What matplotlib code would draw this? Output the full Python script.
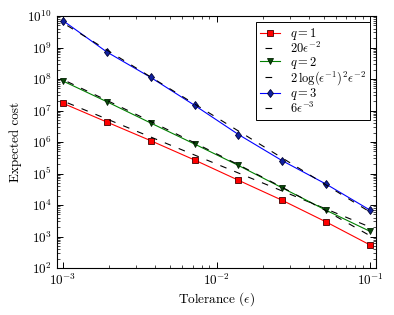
import numpy as np
import matplotlib
matplotlib.use("Agg")
import matplotlib.pyplot as plt

plt.rcParams['font.family'] = 'serif'
plt.rcParams['font.serif'] = ['cmr10', 'DejaVu Serif']
plt.rcParams['mathtext.fontset'] = 'cm'
plt.rcParams['axes.formatter.use_mathtext'] = True
plt.rcParams['font.size'] = 9

tol = [1.0e-3, 1.93e-3, 3.73e-3, 7.20e-3, 1.39e-2, 2.68e-2, 5.18e-2, 1.0e-1]
cost_q1 = [1.69e7, 4.3e6, 1.1e6, 2.68e5, 6.1e4, 1.41e4, 2.9e3, 5.4e2]
cost_q2 = [8.6e7, 1.9e7, 4.0e6, 8.6e5, 1.8e5, 3.5e4, 6.8e3, 1.46e3]
cost_q3 = [7.1e9, 7.2e8, 1.12e8, 1.46e7, 1.73e6, 2.55e5, 4.6e4, 6.9e3]

eps = np.array(tol)
ref1 = 20 * eps**-2
ref2 = 2 * np.log(1 / eps)**2 * eps**-2
ref3 = 6 * eps**-3

fig = plt.figure(figsize=(3.94, 3.15), dpi=100)
ax = fig.add_axes([57/394, 1-268/315, (376-57)/394, (268-16)/315])

dash = (9.0, (6.0, 7.5))
ax.plot(tol, cost_q1, '-', color='r', lw=0.8, marker='s', ms=3.9,
        mfc='r', mec='#400000', mew=0.6, label=r'$q=1$')
ax.plot(tol, ref1, color='k', lw=0.8, linestyle=dash, label=r'$20\epsilon^{-2}$')
ax.plot(tol, cost_q2, '-', color='g', lw=0.8, marker='v', ms=4.3,
        mfc='#0a4a0a', mec='#002000', mew=0.6, label=r'$q=2$')
ax.plot(tol, ref2, color='k', lw=0.8, linestyle=dash,
        label=r'$2\,\log(\epsilon^{-1})^2\epsilon^{-2}$')
ax.plot(tol, cost_q3, '-', color='b', lw=0.8, marker='d', ms=4.3,
        mfc='#1020a0', mec='#000030', mew=0.6, label=r'$q=3$')
ax.plot(tol, ref3, color='k', lw=0.8, linestyle=dash, label=r'$6\epsilon^{-3}$')

ax.set_xscale('log')
ax.set_yscale('log')
ax.set_xlim(1e-3/1.095, 1e-1*1.095)
ax.set_ylim(1e2, 1e10)
ax.set_yticks([10.0**k for k in range(2, 11)])
ax.tick_params(which='both', direction='in', top=True, right=True, labelsize=9.5)
ax.tick_params(which='major', length=4, width=0.7)
ax.tick_params(which='minor', length=2, width=0.5)
ax.set_xlabel(r'Tolerance ($\epsilon$)', fontsize=9.5, labelpad=1.5)
ax.set_ylabel('Expected cost', fontsize=9.5)

leg = ax.legend(loc='upper right', fancybox=False, edgecolor='k',
                framealpha=1, handlelength=1.6, handletextpad=0.8,
                borderaxespad=0.45, labelspacing=-0.1, borderpad=0.35)
leg.get_frame().set_linewidth(0.7)

fig.savefig('out.png', dpi=100)
